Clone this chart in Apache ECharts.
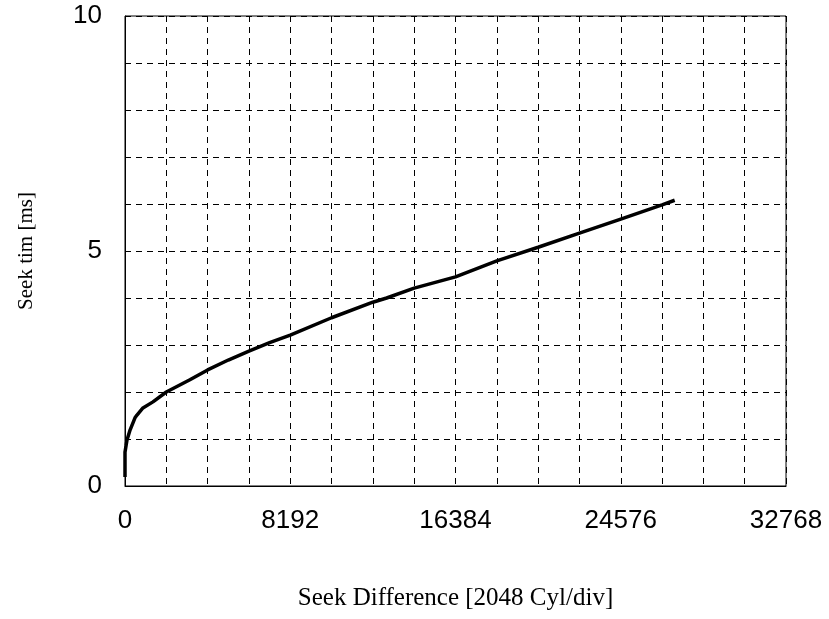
<!DOCTYPE html>
<html>
<head>
<meta charset="utf-8">
<script src="https://cdn.jsdelivr.net/npm/echarts@6/dist/echarts.min.js"></script>
<style>html,body{margin:0;padding:0;background:#fff;}#c{width:829px;height:619px;}</style>
</head>
<body>
<div id="c"></div>
<script>
const seekDiff = [0, 0, 50, 99, 250, 495, 594, 890, 1386, 2048, 3217, 4096, 5120, 6144, 7168, 8192, 10240, 12288, 12970, 14336, 16384, 18432, 20480, 22528, 24576, 26624, 27250];
const seekTime = [0.19, 0.72, 0.85, 0.98, 1.19, 1.45, 1.51, 1.66, 1.79, 2.0, 2.26, 2.47, 2.68, 2.87, 3.05, 3.21, 3.58, 3.91, 4.0, 4.21, 4.45, 4.79, 5.08, 5.38, 5.68, 5.98, 6.08];
const xTickLabels = ['0', '8192', '16384', '24576', '32768'];
const yTickLabels = ['0', '5', '10'];
const xTitle = 'Seek Difference [2048 Cyl/div]';
const yTitle = 'Seek tim [ms]';

const chart = echarts.init(document.getElementById('c'));
chart.setOption({
  animation: false,
  backgroundColor: '#fff',
  grid: { left: 125, top: 16, right: 43, bottom: 133, show: true, borderColor: '#000', borderWidth: 1, backgroundColor: 'transparent' },
  xAxis: {
    type: 'value', min: 0, max: 32768, interval: 2048,
    name: xTitle, nameLocation: 'middle', nameGap: 100,
    nameTextStyle: { fontFamily: 'Liberation Serif', fontSize: 25, color: '#000' },
    axisLine: { show: true, lineStyle: { color: '#000', width: 1 } },
    axisTick: { show: false },
    axisLabel: {
      margin: 22, fontFamily: 'Liberation Sans', fontSize: 26, color: '#000',
      formatter: v => xTickLabels.includes(String(v)) ? String(v) : ''
    },
    splitLine: { show: true, lineStyle: { color: '#000', type: [6, 5], width: 1 } }
  },
  yAxis: {
    type: 'value', min: 0, max: 10, interval: 1,
    name: yTitle, nameLocation: 'middle', nameGap: 88, nameRotate: 90,
    nameTextStyle: { fontFamily: 'Liberation Serif', fontSize: 21, color: '#000' },
    axisLine: { show: true, lineStyle: { color: '#000', width: 1 } },
    axisTick: { show: false },
    axisLabel: {
      margin: 23, fontFamily: 'Liberation Sans', fontSize: 26, color: '#000',
      formatter: v => yTickLabels.includes(String(v)) ? String(v) : ''
    },
    splitLine: { show: true, lineStyle: { color: '#000', type: [6, 5], width: 1 } }
  },
  series: [{
    type: 'line',
    data: seekDiff.map((x, i) => [x, seekTime[i]]),
    showSymbol: false,
    smooth: false,
    lineStyle: { color: '#000', width: 3.5 }
  }]
});
</script>
</body>
</html>
